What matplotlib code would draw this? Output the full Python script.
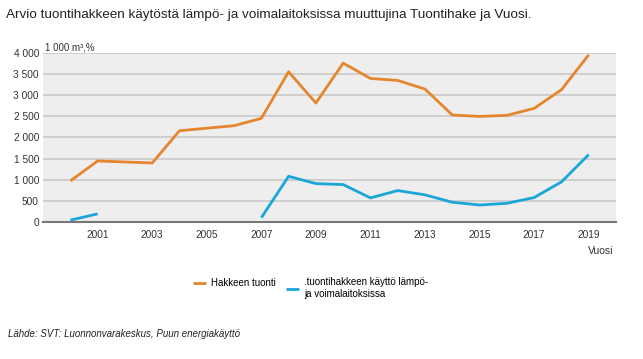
import matplotlib
matplotlib.use("Agg")
import matplotlib.pyplot as plt
import numpy as np

plt.rcParams['font.family'] = ['Liberation Sans', 'DejaVu Sans']

years = list(range(2000, 2020))
hakkeen_tuonti = [970, 1444, 1420, 1396, 2160, 2220, 2280, 2454, 3558, 2817,
                  3763, 3400, 3353, 3148, 2533, 2500, 2525, 2690, 3132, 3960]
kaytto = [40, 190, None, None, None, None, None, 100, 1080, 907,
          884, 568, 742, 640, 465, 400, 440, 576, 947, 1594]
yticks = [0, 500, 1000, 1500, 2000, 2500, 3000, 3500, 4000]
xticks = list(range(2001, 2020, 2))

orange = '#e5862f'
blue = '#1aa6d8'

fig = plt.figure(figsize=(6.43, 3.59), dpi=100)
ax = fig.add_axes([0.067, 0.382, 0.891, 0.470])
ax.set_facecolor('#eeeeee')

kaytto_arr = np.array([np.nan if v is None else v for v in kaytto], dtype=float)
l1, = ax.plot(years, hakkeen_tuonti, color=orange, lw=2, solid_capstyle='butt')
l2, = ax.plot(years, kaytto_arr, color=blue, lw=2, solid_capstyle='butt')

ax.set_xlim(1999, 2020)
ax.set_ylim(0, 4000)
ax.set_yticks(yticks)
ax.set_yticklabels([f"{v:,}".replace(",", " ") for v in yticks])
ax.set_xticks(xticks)
ax.set_xticklabels([str(x) for x in xticks])
ax.tick_params(length=0, labelsize=7.3, colors='#333333', pad=3)
ax.tick_params(axis='x', pad=6)
for v in yticks[1:]:
    ax.axhline(v, color='#cccccc', lw=1.3, zorder=0)
for s in ['top', 'right', 'left']:
    ax.spines[s].set_visible(False)
ax.spines['bottom'].set_color('#777777')
ax.spines['bottom'].set_linewidth(1.5)

fig.text(6/643, 1 - 15/359, "Arvio tuontihakkeen käytöstä lämpö- ja voimalaitoksissa muuttujina Tuontihake ja Vuosi.",
         fontsize=9.7, va='center', ha='left', color='#222222')
fig.text(45/643, 1 - 47/359, "1 000 m³,%", fontsize=7, va='center', ha='left', color='#333333')
fig.text(613/643, 1 - 251/359, "Vuosi", fontsize=7.5, va='center', ha='right', color='#333333')
fig.text(8/643, 1 - 334/359, "Lähde: SVT: Luonnonvarakeskus, Puun energiakäyttö",
         fontsize=7, va='center', ha='left', style='italic', color='#222222')

# two separate legends so the first entry sits on the top line like the original
fig.legend([l1], ["Hakkeen tuonti"], loc='center left',
           bbox_to_anchor=(184/643, 1 - 283/359), frameon=False,
           fontsize=7, handlelength=1.4, handletextpad=0.5)
fig.legend([l2], [".tuontihakkeen käyttö lämpö-\nja voimalaitoksissa"], loc='center left',
           bbox_to_anchor=(277/643, 1 - 288/359), frameon=False,
           fontsize=7, handlelength=1.4, handletextpad=0.5)

fig.savefig("out.png", dpi=100)
